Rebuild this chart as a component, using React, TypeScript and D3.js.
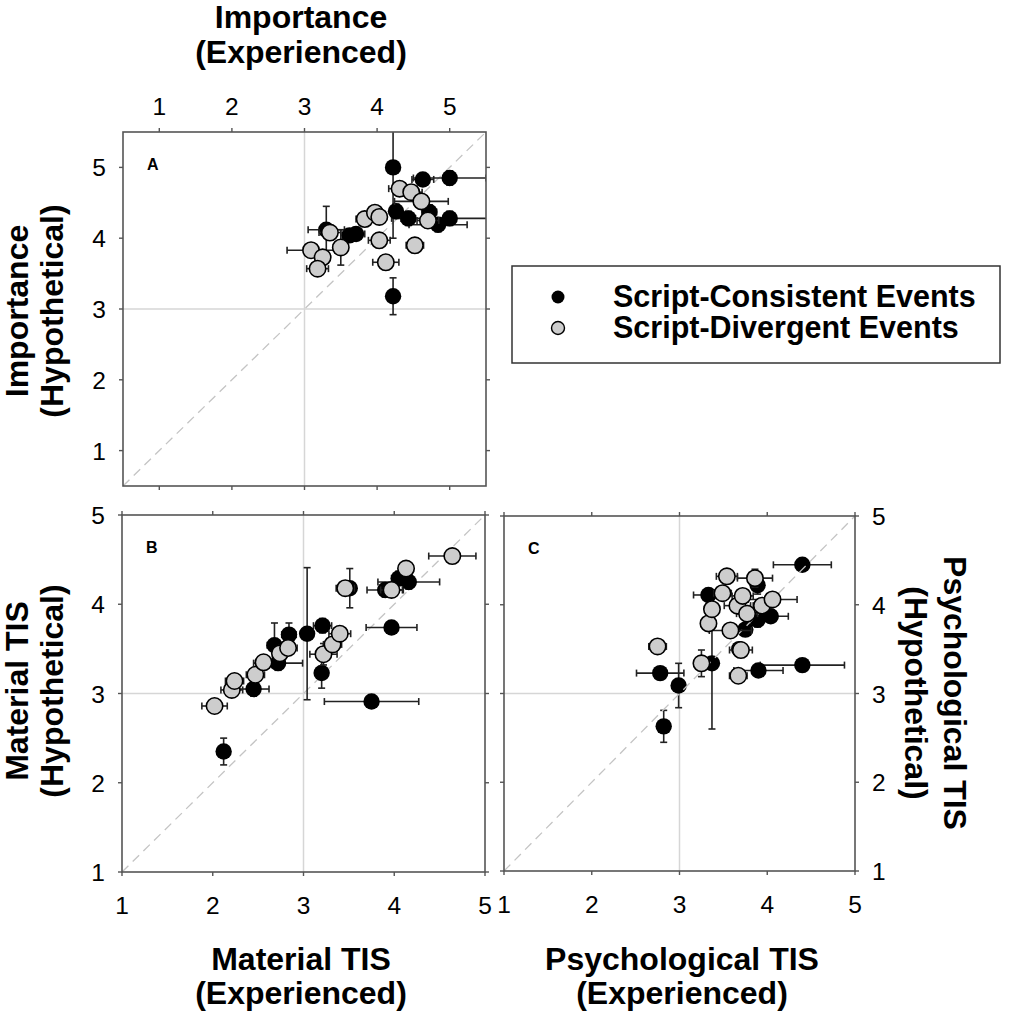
import { useRef, useEffect } from 'react'
import * as d3 from 'd3'

// [x, y, xErr, yErr]
type Pt = [number, number, number, number]

const A_CONSISTENT: Pt[] = [
  [4.22, 5.0, 0.05, 1.0],
  [4.63, 4.83, 0.15, 0.08],
  [5.0, 4.85, 0.5, 0.1],
  [4.26, 4.38, 0.08, 0.1],
  [4.43, 4.28, 0.1, 0.1],
  [4.72, 4.37, 0.1, 0.1],
  [4.84, 4.19, 0.4, 0.1],
  [5.0, 4.28, 0.8, 0.1],
  [3.3, 4.12, 0.25, 0.33],
  [3.62, 4.04, 0.1, 0.08],
  [3.71, 4.06, 0.12, 0.08],
  [4.22, 3.18, 0.05, 0.26],
]
const A_DIVERGENT: Pt[] = [
  [3.09, 3.83, 0.33, 0.08],
  [3.25, 3.73, 0.1, 0.1],
  [3.18, 3.57, 0.15, 0.08],
  [3.35, 4.08, 0.15, 0.1],
  [3.5, 3.87, 0.1, 0.25],
  [3.83, 4.27, 0.12, 0.1],
  [3.97, 4.36, 0.1, 0.1],
  [4.03, 4.3, 0.1, 0.08],
  [4.03, 3.97, 0.15, 0.1],
  [4.12, 3.66, 0.18, 0.1],
  [4.31, 4.7, 0.15, 0.1],
  [4.47, 4.65, 0.15, 0.1],
  [4.61, 4.52, 0.37, 0.1],
  [4.7, 4.25, 0.15, 0.1],
  [4.52, 3.9, 0.12, 0.1],
]
const B_CONSISTENT: Pt[] = [
  [2.12, 2.35, 0.05, 0.15],
  [2.45, 3.05, 0.17, 0.08],
  [2.72, 3.34, 0.27, 0.08],
  [2.68, 3.54, 0.08, 0.25],
  [2.84, 3.66, 0.08, 0.13],
  [3.04, 3.67, 0.05, 0.74],
  [3.21, 3.76, 0.1, 0.08],
  [3.2, 3.23, 0.05, 0.17],
  [3.75, 2.91, 0.52, 0.05],
  [3.51, 4.18, 0.05, 0.22],
  [3.97, 3.74, 0.28, 0.05],
  [4.05, 4.29, 0.08, 0.08],
  [4.16, 4.25, 0.34, 0.08],
  [3.9, 4.16, 0.2, 0.08],
]
const B_DIVERGENT: Pt[] = [
  [2.02, 2.86, 0.14, 0.05],
  [2.21, 3.04, 0.12, 0.05],
  [2.24, 3.14, 0.1, 0.08],
  [2.47, 3.21, 0.1, 0.08],
  [2.56, 3.35, 0.08, 0.08],
  [2.74, 3.45, 0.08, 0.08],
  [2.83, 3.51, 0.1, 0.08],
  [3.22, 3.44, 0.15, 0.12],
  [3.32, 3.55, 0.1, 0.08],
  [3.4, 3.67, 0.12, 0.08],
  [3.46, 4.18, 0.1, 0.05],
  [3.97, 4.16, 0.12, 0.05],
  [4.13, 4.4, 0.08, 0.06],
  [4.64, 4.54, 0.26, 0.05],
]
const C_CONSISTENT: Pt[] = [
  [4.4, 4.45, 0.33, 0.05],
  [3.89, 4.22, 0.05, 0.1],
  [3.33, 4.11, 0.17, 0.05],
  [4.04, 3.87, 0.2, 0.05],
  [3.89, 3.83, 0.05, 0.08],
  [3.75, 3.72, 0.05, 0.05],
  [3.68, 3.5, 0.05, 0.05],
  [3.37, 3.34, 0.05, 0.74],
  [2.78, 3.23, 0.27, 0.05],
  [2.99, 3.09, 0.05, 0.25],
  [2.82, 2.63, 0.03, 0.18],
  [3.9, 3.26, 0.28, 0.05],
  [4.4, 3.32, 0.48, 0.05],
]
const C_DIVERGENT: Pt[] = [
  [2.75, 3.53, 0.1, 0.05],
  [3.25, 3.34, 0.05, 0.15],
  [3.67, 3.2, 0.1, 0.07],
  [3.7, 3.49, 0.13, 0.05],
  [3.33, 3.79, 0.08, 0.08],
  [3.37, 3.95, 0.08, 0.05],
  [3.49, 4.13, 0.1, 0.05],
  [3.54, 4.32, 0.12, 0.05],
  [3.58, 3.71, 0.24, 0.05],
  [3.66, 3.99, 0.15, 0.05],
  [3.72, 4.1, 0.12, 0.05],
  [3.77, 3.9, 0.12, 0.05],
  [3.86, 4.3, 0.2, 0.1],
  [3.94, 3.99, 0.1, 0.08],
  [4.06, 4.06, 0.28, 0.05],
]

const TICKS = [1, 2, 3, 4, 5]
const LEGEND_LABELS = ['Script-Consistent Events', 'Script-Divergent Events']

const FONT = "'Liberation Sans', Arial, Helvetica, sans-serif"
const FRAME = '#555'
const REF_LINE = '#d6d6d6'
const DIAG = '#c4c4c4'
const GRAY_FILL = '#cdcdcd'
const R = 8.2

interface PanelCfg {
  id: string
  left: number
  right: number
  top: number
  bottom: number
  domain: [number, number]
  consistent: Pt[]
  divergent: Pt[]
  xLabels: 'top' | 'bottom'
  yLabels: 'left' | 'right' | 'none'
  diagOnTop: boolean
}

const PANELS: PanelCfg[] = [
  { id: 'A', left: 123, right: 486, top: 132, bottom: 486, domain: [0.5, 5.5], consistent: A_CONSISTENT, divergent: A_DIVERGENT, xLabels: 'top', yLabels: 'left', diagOnTop: false },
  { id: 'B', left: 122, right: 485, top: 515, bottom: 872, domain: [1, 5], consistent: B_CONSISTENT, divergent: B_DIVERGENT, xLabels: 'bottom', yLabels: 'left', diagOnTop: false },
  { id: 'C', left: 504, right: 855, top: 516, bottom: 871, domain: [1, 5], consistent: C_CONSISTENT, divergent: C_DIVERGENT, xLabels: 'bottom', yLabels: 'right', diagOnTop: true },
]

export default function App() {
  const svgRef = useRef<SVGSVGElement>(null)

  useEffect(() => {
    const svg = d3.select(svgRef.current)
    svg.selectAll('*').remove()

    PANELS.forEach((p) => {
      const x = d3.scaleLinear().domain(p.domain).range([p.left, p.right])
      const y = d3.scaleLinear().domain(p.domain).range([p.bottom, p.top])
      const g = svg.append('g')

      // reference lines at 3
      g.append('line').attr('x1', x(3)).attr('x2', x(3)).attr('y1', p.top).attr('y2', p.bottom)
        .attr('stroke', REF_LINE).attr('stroke-width', 1.5)
      g.append('line').attr('x1', p.left).attr('x2', p.right).attr('y1', y(3)).attr('y2', y(3))
        .attr('stroke', REF_LINE).attr('stroke-width', 1.5)

      const drawDiag = () =>
        g.append('line')
          .attr('x1', x(p.domain[0])).attr('y1', y(p.domain[0]))
          .attr('x2', x(p.domain[1])).attr('y2', y(p.domain[1]))
          .attr('stroke', DIAG).attr('stroke-width', 1.3).attr('stroke-dasharray', '9,6')

      if (!p.diagOnTop) drawDiag()

      const clipId = `clip-${p.id}`
      svg.append('clipPath').attr('id', clipId).append('rect')
        .attr('x', p.left).attr('y', p.top).attr('width', p.right - p.left).attr('height', p.bottom - p.top)

      const series = (data: Pt[], fill: string, stroke: string | null) => {
        const eg = g.append('g').attr('clip-path', `url(#${clipId})`)
          .attr('stroke', '#222').attr('stroke-width', 1.6)
        const cap = 3.5
        data.forEach(([vx, vy, ex, ey]) => {
          const cx = x(vx), cy = y(vy)
          const x0 = x(vx - ex), x1 = x(vx + ex), y0 = y(vy - ey), y1 = y(vy + ey)
          eg.append('line').attr('x1', x0).attr('x2', x1).attr('y1', cy).attr('y2', cy)
          eg.append('line').attr('x1', x0).attr('x2', x0).attr('y1', cy - cap).attr('y2', cy + cap)
          eg.append('line').attr('x1', x1).attr('x2', x1).attr('y1', cy - cap).attr('y2', cy + cap)
          eg.append('line').attr('x1', cx).attr('x2', cx).attr('y1', y0).attr('y2', y1)
          eg.append('line').attr('x1', cx - cap).attr('x2', cx + cap).attr('y1', y0).attr('y2', y0)
          eg.append('line').attr('x1', cx - cap).attr('x2', cx + cap).attr('y1', y1).attr('y2', y1)
        })
        g.append('g').selectAll('circle').data(data).join('circle')
          .attr('cx', (d) => x(d[0])).attr('cy', (d) => y(d[1])).attr('r', R)
          .attr('fill', fill)
          .attr('stroke', stroke ?? 'none').attr('stroke-width', 1.6)
      }

      series(p.consistent, '#000', null)
      if (p.diagOnTop) drawDiag()
      series(p.divergent, GRAY_FILL, '#000')

      // frame
      g.append('rect').attr('x', p.left).attr('y', p.top)
        .attr('width', p.right - p.left).attr('height', p.bottom - p.top)
        .attr('fill', 'none').attr('stroke', FRAME).attr('stroke-width', 1.6)

      // ticks on all sides, outward
      const tk = 4
      const tg = g.append('g').attr('stroke', FRAME).attr('stroke-width', 1.4)
      TICKS.forEach((t) => {
        tg.append('line').attr('x1', x(t)).attr('x2', x(t)).attr('y1', p.top).attr('y2', p.top - tk)
        tg.append('line').attr('x1', x(t)).attr('x2', x(t)).attr('y1', p.bottom).attr('y2', p.bottom + tk)
        tg.append('line').attr('x1', p.left).attr('x2', p.left - tk).attr('y1', y(t)).attr('y2', y(t))
        tg.append('line').attr('x1', p.right).attr('x2', p.right + tk).attr('y1', y(t)).attr('y2', y(t))
      })

      const lg = g.append('g').attr('font-family', FONT).attr('font-size', 24.5).attr('fill', '#000')
      TICKS.forEach((t) => {
        lg.append('text').attr('x', x(t))
          .attr('y', p.xLabels === 'top' ? p.top - 17 : p.bottom + 42)
          .attr('text-anchor', 'middle').text(t)
        if (p.yLabels === 'left') {
          lg.append('text').attr('x', p.left - 17).attr('y', y(t) + 9).attr('text-anchor', 'end').text(t)
        } else if (p.yLabels === 'right') {
          lg.append('text').attr('x', p.right + 17).attr('y', y(t) + 9).attr('text-anchor', 'start').text(t)
        }
      })

      g.append('text').attr('x', p.left + 24).attr('y', p.top + 38)
        .attr('font-family', FONT).attr('font-weight', 'bold').attr('font-size', 16).text(p.id)
    })

    // axis titles
    const tt = svg.append('g').attr('font-family', FONT).attr('font-weight', 'bold')
      .attr('font-size', 32).attr('text-anchor', 'middle').attr('fill', '#000')
    const title = (lines: [string, number][], cx: number, cy: number, rot: number) => {
      lines.forEach(([s, off]) => {
        if (rot === 0) tt.append('text').attr('x', cx).attr('y', cy + off).text(s)
        else tt.append('text').attr('transform', `translate(${cx + off},${cy}) rotate(${rot})`).text(s)
      })
    }
    title([['Importance', 0], ['(Experienced)', 35]], 301, 28, 0)
    title([['Material TIS', 0], ['(Experienced)', 34]], 301, 970, 0)
    title([['Psychological TIS', 0], ['(Experienced)', 34]], 682, 970, 0)
    title([['Importance', 0], ['(Hypothetical)', 35]], 28, 311, -90)
    title([['Material TIS', 0], ['(Hypothetical)', 35]], 28, 691, -90)
    title([['Psychological TIS', 0], ['(Hypothetical)', -39]], 944, 693, 90)

    // legend
    const leg = svg.append('g')
    leg.append('rect').attr('x', 512).attr('y', 266).attr('width', 488).attr('height', 97)
      .attr('fill', '#fff').attr('stroke', '#333').attr('stroke-width', 1.5)
    const legY = d3.scalePoint<string>().domain(LEGEND_LABELS).range([297, 328])
    LEGEND_LABELS.forEach((lab, i) => {
      leg.append('circle').attr('cx', 558).attr('cy', legY(lab)!).attr('r', 6.5)
        .attr('fill', i === 0 ? '#000' : GRAY_FILL).attr('stroke', '#000').attr('stroke-width', i === 0 ? 0 : 1.4)
      leg.append('text').attr('x', 613).attr('y', legY(lab)! + 10)
        .attr('font-family', FONT).attr('font-weight', 'bold').attr('font-size', 30.5).text(lab)
    })
  }, [])

  return (
    <div style={{ position: 'absolute', left: 0, top: 0 }}>
      <svg ref={svgRef} width={1021} height={1014} style={{ display: 'block', background: '#fff' }} />
    </div>
  )
}
